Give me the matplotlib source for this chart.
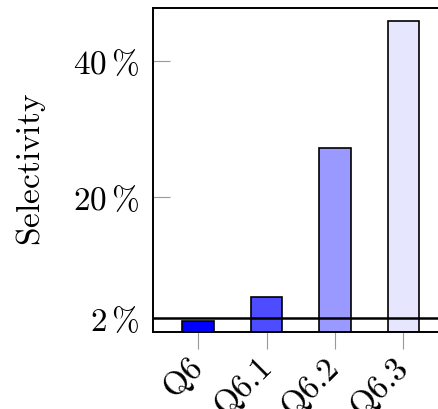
import matplotlib
matplotlib.use("Agg")
import matplotlib.pyplot as plt

plt.rcParams['mathtext.fontset'] = 'cm'

categories = ["Q6", "Q6.1", "Q6.2", "Q6.3"]
values = [1.6, 5.2, 27.2, 46.0]
colors = ["#0000ff", "#4d4dff", "#9999ff", "#e6e6ff"]
yticks = [2, 20, 40]
ytick_labels = [r"$2\,\%$", r"$20\,\%$", r"$40\,\%$"]
ref_line = 2

fig = plt.figure(figsize=(4.39, 4.09), dpi=100)
ax = fig.add_axes([153/439, 1-332/409, 1-153/439, (332-8)/409])

x = list(range(len(categories)))
ax.bar(x, values, width=0.46, color=colors, edgecolor='black', linewidth=1.2, zorder=2)
ax.axhline(ref_line, color='black', linewidth=1.8, zorder=3)

ax.set_xlim(-0.66, 3.52)
ax.set_ylim(0, 47.9)
ax.set_yticks(yticks)
ax.set_yticklabels(ytick_labels, fontsize=24)
ax.set_xticks(x)
ax.set_xticklabels([r"$\mathrm{%s}$" % c for c in categories], fontsize=24,
                   rotation=45, ha='right', va='center', rotation_mode='anchor')
ax.tick_params(axis='y', direction='in', length=12, color='#999999', width=0.8, pad=10)
ax.tick_params(axis='x', direction='out', length=12, color='#999999', width=0.8, pad=11)
ax.set_ylabel(r"$\mathrm{Selectivity}$", fontsize=24, labelpad=18)
for s in ['left', 'top', 'bottom']:
    ax.spines[s].set_linewidth(1.4)
ax.spines['right'].set_visible(False)

fig.savefig("out.png", dpi=100)
